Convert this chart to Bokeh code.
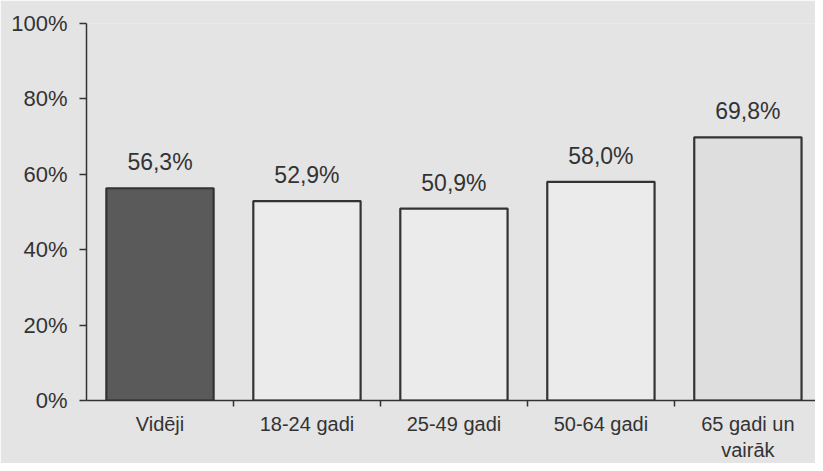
from bokeh.plotting import figure
from bokeh.models import ColumnDataSource, FixedTicker, Range1d
from bokeh.embed import file_html
from bokeh.resources import INLINE
from bokeh.core.properties import value

categories = ["Vidēji", "18-24 gadi", "25-49 gadi", "50-64 gadi", "65 gadi un\nvairāk"]
values = [56.3, 52.9, 50.9, 58.0, 69.8]
value_labels = ["56,3%", "52,9%", "50,9%", "58,0%", "69,8%"]
bar_colors = ["#5a5a5a", "#ebebeb", "#ebebeb", "#ebebeb", "#dedede"]
y_ticks = [0, 20, 40, 60, 80, 100]

BG = "#e4e4e4"
INK = "#333333"
FONT = "Liberation Sans"

xs = [i + 0.5 for i in range(len(categories))]
src = ColumnDataSource(dict(x=xs, top=values, color=bar_colors, label=value_labels))

p = figure(width=815, height=463, output_backend="svg", toolbar_location=None,
           x_range=Range1d(0, 4.96), y_range=Range1d(0, 100),
           min_border_left=86, min_border_right=0, min_border_top=23, min_border_bottom=63)
p.background_fill_color = BG
p.border_fill_color = BG
p.outline_line_color = None
p.grid.visible = False

p.vbar(x="x", top="top", bottom=0, width=0.73, source=src, fill_color="color",
       line_color=INK, line_width=2.2)

p.text(x="x", y="top", text="label", source=src, text_align="center",
       text_baseline="bottom", y_offset=-13, text_font=value(FONT),
       text_font_size="23px", text_color=INK)

# x axis
xa = p.xaxis[0]
xa.ticker = FixedTicker(ticks=xs, minor_ticks=[1, 2, 3, 4])
xa.major_label_overrides = {x: c for x, c in zip(xs, categories)}
xa.major_tick_line_color = None
xa.major_tick_in = 0
xa.major_tick_out = 0
xa.minor_tick_in = 0
xa.minor_tick_out = 6
xa.minor_tick_line_color = INK
xa.minor_tick_line_width = 1.5
xa.axis_line_color = INK
xa.axis_line_width = 1.5
xa.major_label_text_font = FONT
xa.major_label_text_font_size = "20px"
xa.major_label_text_color = INK
xa.major_label_standoff = 6

# y axis
ya = p.yaxis[0]
ya.ticker = FixedTicker(ticks=y_ticks, minor_ticks=[])
ya.major_label_overrides = {t: f"{t}%" for t in y_ticks}
ya.major_tick_in = 0
ya.major_tick_out = 7
ya.major_tick_line_color = INK
ya.major_tick_line_width = 1.5
ya.axis_line_color = INK
ya.axis_line_width = 1.5
ya.major_label_text_font = FONT
ya.major_label_text_font_size = "22px"
ya.major_label_text_color = INK
ya.major_label_standoff = 12

open("out.html", "w").write(file_html(p, INLINE))
